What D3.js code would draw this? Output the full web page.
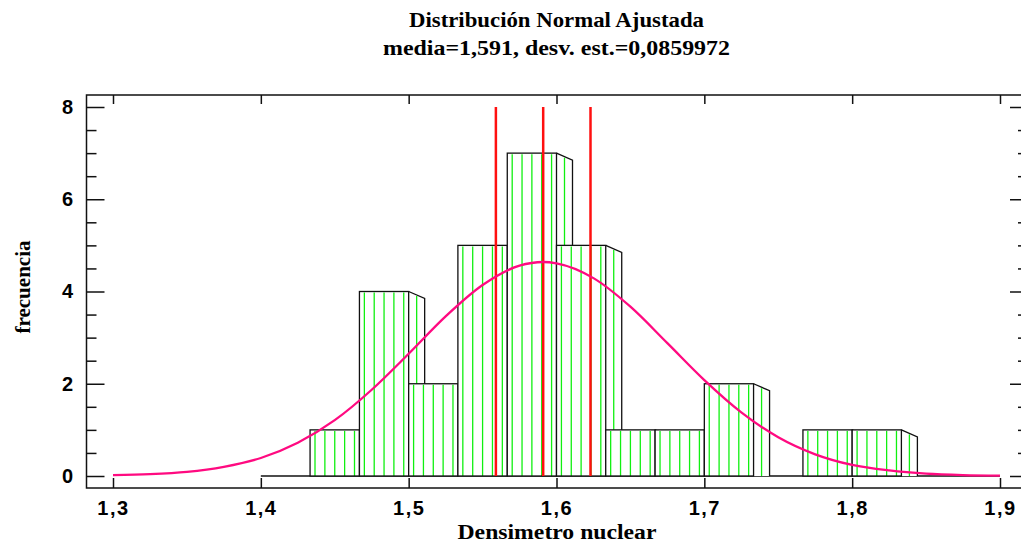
<!DOCTYPE html>
<html>
<head>
<meta charset="utf-8">
<script src="https://cdn.jsdelivr.net/npm/d3@7"></script>
<style>
  body { margin: 0; background: #fff; }
  svg { display: block; }
  .tick text { font-family: "Liberation Sans", Arial, sans-serif; font-weight: bold; font-size: 20px; fill: #000; }
  .ttl { font-family: "Liberation Serif", "Times New Roman", serif; font-weight: bold; fill: #000; }
</style>
</head>
<body>
<div id="chart"></div>
<script>
// histogram bins (Densimetro nuclear) and their counts
const binEdges = [1.4, 1.4333, 1.4667, 1.5, 1.5333, 1.5667, 1.6, 1.6333, 1.6667, 1.7, 1.7333, 1.7667, 1.8, 1.8333, 1.8667, 1.9];
const binCounts = [0, 1, 4, 2, 5, 7, 5, 1, 1, 2, 0, 1, 1, 0, 0];

// fitted normal curve
const curveX = [1.3, 1.325, 1.35, 1.375, 1.4, 1.425, 1.45, 1.475, 1.5, 1.525, 1.55, 1.575, 1.591, 1.6, 1.625, 1.65, 1.675, 1.7, 1.725, 1.75, 1.775, 1.8, 1.825, 1.85, 1.875, 1.9];
const curveY = [0.02, 0.04, 0.09, 0.20, 0.39, 0.72, 1.21, 1.87, 2.65, 3.46, 4.14, 4.56, 4.64, 4.61, 4.29, 3.67, 2.88, 2.08, 1.38, 0.84, 0.47, 0.24, 0.12, 0.05, 0.02, 0.01];

// red reference lines (media and its interval)
const refLines = [1.559, 1.591, 1.623];

const xTicks = [1.3, 1.4, 1.5, 1.6, 1.7, 1.8, 1.9];
const xTickLabels = ["1,3", "1,4", "1,5", "1,6", "1,7", "1,8", "1,9"];
const yTicks = [0, 2, 4, 6, 8];
const yMinor = [0.5, 1, 1.5, 2.5, 3, 3.5, 4.5, 5, 5.5, 6.5, 7, 7.5];

const title1 = "Distribución Normal Ajustada";
const title2 = "media=1,591, desv. est.=0,0859972";
const xTitle = "Densimetro nuclear";
const yTitle = "frecuencia";

const width = 1021, height = 544;
const box = { l: 86.5, r: 1028, t: 95, b: 488 };
const depth = { dx: 16, dy: 7 };

const svg = d3.select('#chart').append('svg')
  .attr('width', width)
  .attr('height', height);

const scaleX = d3.scaleLinear().domain([1.3, 1.9]).range([113, 1000]);
const scaleY = d3.scaleLinear().domain([0, 8]).range([476, 107]);

// titles
svg.append('text').attr('class', 'ttl')
  .attr('x', 556.5).attr('y', 27)
  .attr('text-anchor', 'middle')
  .attr('font-size', 21)
  .attr('textLength', 295).attr('lengthAdjust', 'spacingAndGlyphs')
  .text(title1);
svg.append('text').attr('class', 'ttl')
  .attr('x', 556.5).attr('y', 55)
  .attr('text-anchor', 'middle')
  .attr('font-size', 21)
  .attr('textLength', 347).attr('lengthAdjust', 'spacingAndGlyphs')
  .text(title2);

//Axes (ticks point into the plot)
const axisStyle = g => {
  g.select('.domain').remove();
  g.selectAll('line').style('stroke', '#111').style('stroke-width', 1.5);
};

svg.append('g')
  .attr('transform', `translate(${box.l},0)`)
  .call(d3.axisLeft(scaleY).tickValues(yTicks).tickSize(-18).tickPadding(12))
  .call(axisStyle);
svg.append('g')
  .attr('transform', `translate(${box.l},0)`)
  .call(d3.axisLeft(scaleY).tickValues(yMinor).tickSize(-10).tickFormat(''))
  .call(axisStyle);
svg.append('g')
  .attr('transform', `translate(${box.r},0)`)
  .call(d3.axisRight(scaleY).tickValues(yTicks).tickSize(-18).tickFormat(''))
  .call(axisStyle);
svg.append('g')
  .attr('transform', `translate(${box.r},0)`)
  .call(d3.axisRight(scaleY).tickValues(yMinor).tickSize(-10).tickFormat(''))
  .call(axisStyle);
svg.append('g')
  .attr('transform', `translate(0,${box.b})`)
  .call(d3.axisBottom(scaleX).tickValues(xTicks).tickSize(-10).tickPadding(13)
    .tickFormat((d, i) => xTickLabels[i]))
  .call(axisStyle);
svg.append('g')
  .attr('transform', `translate(0,${box.t})`)
  .call(d3.axisTop(scaleX).tickValues(xTicks).tickSize(-9).tickFormat(''))
  .call(axisStyle);

svg.selectAll('.tick text').style('letter-spacing', '1.5px');

svg.append('rect')
  .attr('x', box.l).attr('y', box.t)
  .attr('width', box.r - box.l).attr('height', box.b - box.t)
  .style('fill', 'none').style('stroke', '#111').style('stroke-width', 1.5);

// axis titles
svg.append('text').attr('class', 'ttl')
  .attr('x', 557).attr('y', 539)
  .attr('text-anchor', 'middle')
  .attr('font-size', 20)
  .attr('textLength', 199).attr('lengthAdjust', 'spacingAndGlyphs')
  .text(xTitle);
svg.append('text').attr('class', 'ttl')
  .attr('transform', 'translate(30,287) rotate(-90)')
  .attr('text-anchor', 'middle')
  .attr('font-size', 20)
  .attr('textLength', 93).attr('lengthAdjust', 'spacingAndGlyphs')
  .text(yTitle);

// baseline of the histogram range
svg.append('line')
  .attr('x1', scaleX(binEdges[0])).attr('x2', scaleX(binEdges[binEdges.length - 1]))
  .attr('y1', scaleY(0)).attr('y2', scaleY(0))
  .style('stroke', '#111').style('stroke-width', 1.3);

//Bars: drawn left to right, each with a 3D side face that the next bar covers
const bins = binCounts.map((c, i) => ({ x0: binEdges[i], x1: binEdges[i + 1], count: c }))
  .filter(d => d.count > 0);

const green = '#10f010';
const plot = svg.append('g').attr('class', 'plot');

bins.forEach(d => {
  const xa = scaleX(d.x0), xb = scaleX(d.x1);
  const yt = scaleY(d.count), y0 = scaleY(0);
  const g = plot.append('g').attr('class', 'bin');

  // side face
  g.append('path')
    .attr('d', `M${xb},${yt}L${xb + depth.dx},${yt + depth.dy}L${xb + depth.dx},${y0}L${xb},${y0}Z`)
    .style('fill', '#fff');
  g.append('line')
    .attr('x1', xb + depth.dx * 0.5).attr('x2', xb + depth.dx * 0.5)
    .attr('y1', yt + depth.dy * 0.5 + 1).attr('y2', y0)
    .style('stroke', green).style('stroke-width', 1.3);
  g.append('path')
    .attr('d', `M${xb},${yt}L${xb + depth.dx},${yt + depth.dy}L${xb + depth.dx},${y0}`)
    .style('fill', 'none').style('stroke', '#111').style('stroke-width', 1.3);

  // front face
  g.append('rect')
    .attr('x', xa).attr('y', yt)
    .attr('width', xb - xa).attr('height', y0 - yt)
    .style('fill', '#fff');
  const step = (xb - xa) / 5;
  g.selectAll('.hatch')
    .data(d3.range(5))
    .enter().append('line')
    .attr('class', 'hatch')
    .attr('x1', k => xa + step * (k + 0.5)).attr('x2', k => xa + step * (k + 0.5))
    .attr('y1', yt + 1).attr('y2', y0)
    .style('stroke', green).style('stroke-width', 1.3);
  g.append('rect')
    .attr('x', xa).attr('y', yt)
    .attr('width', xb - xa).attr('height', y0 - yt)
    .style('fill', 'none').style('stroke', '#111').style('stroke-width', 1.3);
});

// red reference lines
svg.selectAll('.ref')
  .data(refLines)
  .enter().append('line')
  .attr('class', 'ref')
  .attr('x1', d => scaleX(d)).attr('x2', d => scaleX(d))
  .attr('y1', scaleY(8)).attr('y2', scaleY(0))
  .style('stroke', '#ff1010').style('stroke-width', 2.5);

// fitted normal curve
const line = d3.line()
  .x((d, i) => scaleX(curveX[i]))
  .y(d => scaleY(d))
  .curve(d3.curveMonotoneX);

svg.append('path')
  .datum(curveY)
  .attr('d', line)
  .style('fill', 'none')
  .style('stroke', '#ff0a80')
  .style('stroke-width', 2.3);
</script>
</body>
</html>
